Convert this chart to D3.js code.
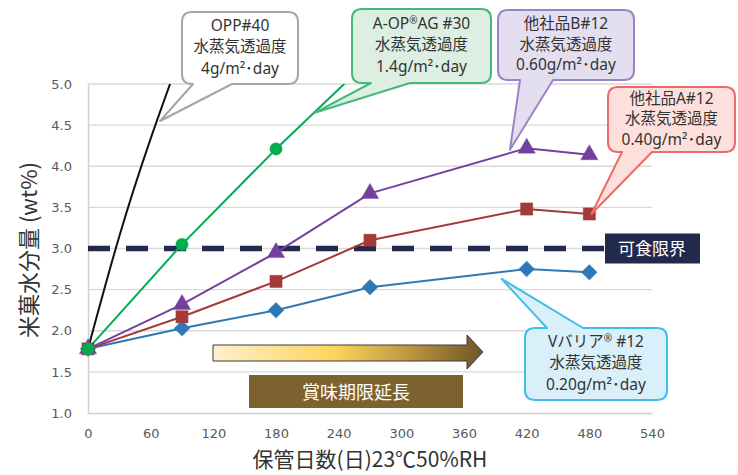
<!DOCTYPE html>
<html>
<head>
<meta charset="utf-8">
<script src="https://cdn.jsdelivr.net/npm/d3@7"></script>
<style>
  body { margin: 0; background: #fff; }
  svg text { font-family: "Noto Sans CJK JP", "Noto Sans", sans-serif; }
</style>
</head>
<body>
<svg id="chart" width="738" height="475"></svg>
<script>
// ---- data ----
var days = [0, 90, 180, 270, 420, 480];
var vBarrier = [1.78, 2.03, 2.25, 2.53, 2.75, 2.71];
var otherA   = [1.78, 2.17, 2.60, 3.10, 3.48, 3.42];
var otherB   = [1.78, 2.32, 2.95, 3.67, 4.22, 4.14];
var aopDays  = [0, 90, 180, 270];
var aopAG    = [1.78, 3.05, 4.21, 5.30];
var oppDays  = [0, 30, 90];
var opp      = [1.78, 3.15, 5.40];
var xTicks = [0, 60, 120, 180, 240, 300, 360, 420, 480, 540];
var yTicks = [1.0, 1.5, 2.0, 2.5, 3.0, 3.5, 4.0, 4.5, 5.0];
var limitValue = 3.0;
var limitLabel = "可食限界";
var arrowLabel = "賞味期限延長";
var xTitle = "保管日数(日)23℃50%RH";
var yTitle = "米菓水分量 (wt%)";

var svg = d3.select("#chart");
var x = d3.scaleLinear().domain([0, 540]).range([88, 652]);
var y = d3.scaleLinear().domain([1, 5]).range([413, 84]);

function pairs(xs, ys) { return xs.map(function (d, i) { return [d, ys[i]]; }); }

// gridlines
svg.append("g").selectAll("line").data(yTicks.slice(1)).enter().append("line")
  .attr("x1", x(0)).attr("x2", x(540))
  .attr("y1", function (d) { return y(d); }).attr("y2", function (d) { return y(d); })
  .attr("stroke", "#d9d9d9").attr("stroke-width", 1.3);

// axes
var yAxis = svg.append("g").attr("transform", "translate(" + x(0) + ",0)")
  .call(d3.axisLeft(y).tickValues(yTicks).tickSize(0).tickPadding(16).tickFormat(d3.format(".1f")));
var xAxis = svg.append("g").attr("transform", "translate(0," + y(1) + ")")
  .call(d3.axisBottom(x).tickValues(xTicks).tickSize(0).tickPadding(16));
[yAxis, xAxis].forEach(function (a) {
  a.select(".domain").attr("stroke", "#d0d0d0").attr("stroke-width", 1.5);
  a.selectAll("text").attr("fill", "#595959").style("font-family", "'DejaVu Sans', Verdana, sans-serif").style("font-size", "13px");
});

// axis titles
svg.append("text").attr("x", 370).attr("y", 467).attr("text-anchor", "middle")
  .attr("fill", "#333").style("font-size", "21px").text(xTitle);
svg.append("text").attr("transform", "translate(37,250) rotate(-90)").attr("text-anchor", "middle")
  .attr("fill", "#333").style("font-size", "22px").text(yTitle);

// arrow (賞味期限延長)
var grad = svg.append("defs").append("linearGradient").attr("id", "arrowGrad")
  .attr("x1", "0%").attr("x2", "100%");
[["0%", "#fff0cc"], ["45%", "#fdd45c"], ["75%", "#b8913f"], ["100%", "#6e5528"]].forEach(function (s) {
  grad.append("stop").attr("offset", s[0]).attr("stop-color", s[1]);
});
svg.append("path")
  .attr("d", "M213,345 L467,345 L467,335 L483,352 L467,369 L467,361 L213,361 Z")
  .attr("fill", "url(#arrowGrad)").attr("stroke", "#3a3a3a").attr("stroke-width", 1);
svg.append("rect").attr("x", 249).attr("y", 375).attr("width", 214).attr("height", 33).attr("fill", "#7d6230");
svg.append("text").attr("x", 356).attr("y", 399).attr("text-anchor", "middle")
  .attr("fill", "#fff").style("font-size", "18px").text(arrowLabel);

// clip for lines
svg.append("defs").append("clipPath").attr("id", "plotClip").append("rect")
  .attr("x", x(0) - 12).attr("y", y(5)).attr("width", x(540) - x(0) + 24).attr("height", y(1) - y(5) + 12);

var plot = svg.append("g").attr("clip-path", "url(#plotClip)");

// limit dashed line
plot.append("line").attr("x1", x(0)).attr("x2", 605)
  .attr("y1", y(limitValue)).attr("y2", y(limitValue))
  .attr("stroke", "#23294d").attr("stroke-width", 5.5).attr("stroke-dasharray", "22,16");
svg.append("rect").attr("x", 605).attr("y", y(limitValue) - 15).attr("width", 95).attr("height", 30).attr("fill", "#23294d");
svg.append("text").attr("x", 652).attr("y", y(limitValue) + 6).attr("text-anchor", "middle")
  .attr("fill", "#fff").style("font-size", "17px").text(limitLabel);

var line = d3.line().x(function (d) { return x(d[0]); }).y(function (d) { return y(d[1]); });

var series = [
  { pts: pairs(days, vBarrier), color: "#2e78b5", shape: d3.symbolSquare, size: 120, rot: 45 },
  { pts: pairs(days, otherA), color: "#a33a3a", shape: d3.symbolSquare, size: 150, rot: 0 },
  { pts: pairs(days, otherB), color: "#7440a0", shape: d3.symbolTriangle, size: 130, rot: 0 },
  { pts: pairs(aopDays, aopAG), color: "#00ad50", shape: d3.symbolCircle, size: 120, rot: 0 },
  { pts: pairs(oppDays, opp), color: "#111", shape: null }
];

series.forEach(function (s) {
  plot.append("path").datum(s.pts).attr("d", s.shape ? line : line.curve(d3.curveMonotoneX))
    .attr("fill", "none").attr("stroke", s.color).attr("stroke-width", 2);
  line.curve(d3.curveLinear);
});
series.forEach(function (s) {
  if (!s.shape) return;
  plot.selectAll(null).data(s.pts.filter(function (d) { return d[1] <= 5; })).enter().append("path")
    .attr("d", d3.symbol().type(s.shape).size(s.size))
    .attr("transform", function (d) { return "translate(" + x(d[0]) + "," + y(d[1]) + ") rotate(" + s.rot + ")"; })
    .attr("fill", s.color).attr("stroke", s.color).attr("stroke-opacity", 0.4).attr("stroke-width", 1);
});

// callouts
var callouts = [
  { lines: [["OPP#40"], ["水蒸気透過度"], ["4g/m²･day"]], tip: [69, 4.55],
    box: [182, 12, 298, 84], tail: [193, 232], side: "bottom", fill: "#ffffff", stroke: "#a6a6a6" },
  { lines: [["A-OP", "®", "AG #30"], ["水蒸気透過度"], ["1.4g/m²･day"]], tip: [217, 4.65],
    box: [352, 9, 491, 83], tail: [371, 410], side: "bottom", fill: "#dcefe2", stroke: "#45b87a" },
  { lines: [["他社品B#12"], ["水蒸気透過度"], ["0.60g/m²･day"]], tip: [404, 4.2],
    box: [498, 10, 634, 80], tail: [520, 553], side: "bottom", fill: "#e4dff0", stroke: "#9a84c6" },
  { lines: [["他社品A#12"], ["水蒸気透過度"], ["0.40g/m²･day"]], tip: [482, 3.42],
    box: [608, 87, 735, 152], tail: [622, 652], side: "bottom", fill: "#fde0dc", stroke: "#ee6a6a" },
  { lines: [["Vバリア", "®", " #12"], ["水蒸気透過度"], ["0.20g/m²･day"]], tip: [396, 2.63],
    box: [525, 328, 667, 400], tail: [547, 583], side: "top", fill: "#d9eff9", stroke: "#3dbfe9" }
];

function calloutPath(c) {
  var b = c.box, r = 10, tx = x(c.tip[0]), ty = y(c.tip[1]);
  var x0 = b[0], y0 = b[1], x1 = b[2], y1 = b[3];
  var p = "M" + (x0 + r) + "," + y0;
  if (c.side === "top") p += "L" + c.tail[0] + "," + y0 + "L" + tx + "," + ty + "L" + c.tail[1] + "," + y0;
  p += "L" + (x1 - r) + "," + y0 + "Q" + x1 + "," + y0 + " " + x1 + "," + (y0 + r);
  p += "L" + x1 + "," + (y1 - r) + "Q" + x1 + "," + y1 + " " + (x1 - r) + "," + y1;
  if (c.side === "bottom") p += "L" + c.tail[1] + "," + y1 + "L" + tx + "," + ty + "L" + c.tail[0] + "," + y1;
  p += "L" + (x0 + r) + "," + y1 + "Q" + x0 + "," + y1 + " " + x0 + "," + (y1 - r);
  p += "L" + x0 + "," + (y0 + r) + "Q" + x0 + "," + y0 + " " + (x0 + r) + "," + y0 + "Z";
  return p;
}

callouts.forEach(function (c) {
  var g = svg.append("g");
  g.append("path").attr("d", calloutPath(c)).attr("fill", c.fill)
    .attr("stroke", c.stroke).attr("stroke-width", 2).attr("stroke-linejoin", "round");
  var cx = (c.box[0] + c.box[2]) / 2;
  var h = c.box[3] - c.box[1];
  var step = h > 70 ? 21.5 : 20.5;
  var top = c.box[1] + (h - step * 3) / 2 + 15;
  c.lines.forEach(function (ln, i) {
    var t = g.append("text").attr("x", cx).attr("y", top + i * step).attr("text-anchor", "middle")
      .attr("fill", "#333").style("font-size", "15.5px")
      .style("font-family", "'Noto Sans', 'Noto Sans CJK JP', sans-serif");
    ln.forEach(function (part) {
      if (part === "®") t.append("tspan").attr("dy", -5).style("font-size", "10px").text(part);
      else {
        var sp = t.append("tspan").text(part);
        if (t.selectAll("tspan").size() > 1) sp.attr("dy", 5);
      }
    });
  });
});
</script>
</body>
</html>
